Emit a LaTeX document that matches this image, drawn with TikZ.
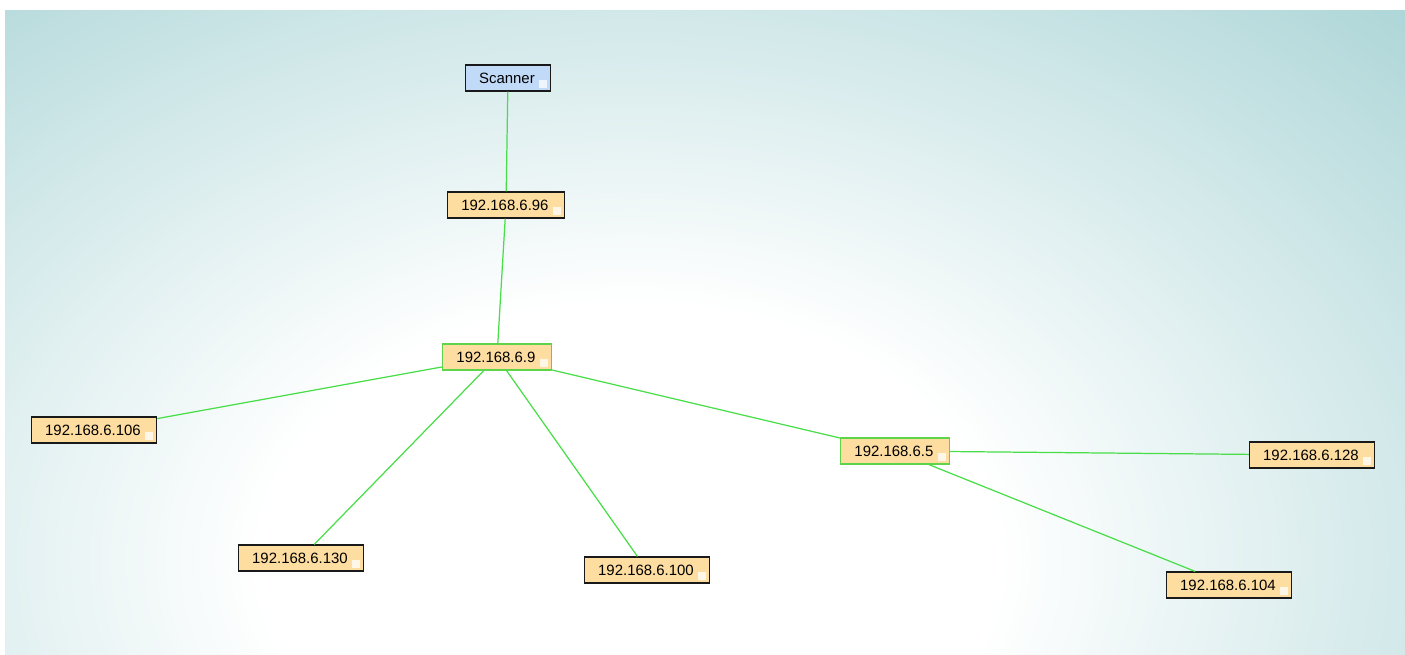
\documentclass[tikz,border=0pt]{standalone}
\usepackage{fontspec}
\setmainfont{Liberation Sans}
\usetikzlibrary{positioning}
\definecolor{bgteal}{RGB}{160,207,209}
\definecolor{hostfill}{RGB}{253,221,160}
\definecolor{scanfill}{RGB}{192,218,248}
\definecolor{linkgreen}{RGB}{72,222,72}
\definecolor{hubgreen}{RGB}{96,212,72}
\pgfdeclareradialshading{glow}{\pgfpoint{0bp}{0bp}}{color(0bp)=(white); color(8bp)=(white); color(27bp)=(bgteal); color(50bp)=(bgteal)}
\tikzset{
  host/.style={draw=black!90, line width=0.75pt, fill=hostfill,
    minimum height=14.7pt, inner xsep=7.8pt, inner ysep=0pt,
    font=\fontsize{8.5}{10}\selectfont,
    execute at end node={\hspace{1.2pt}},
    path picture={\fill[white,opacity=0.75]
      ([xshift=-2pt,yshift=1.5pt]path picture bounding box.south east)
      rectangle ++(-4.5pt,4.5pt);}},
  hub/.style={host, draw=hubgreen},
  scanbox/.style={host, fill=scanfill},
  link/.style={draw=linkgreen, line width=0.7pt}
}

\begin{document}
\begin{tikzpicture}[on grid]
      % background
      \useasboundingbox (0,0) rectangle (28.1,-13.1);
      \begin{scope}
         \clip (0.1,-0.2) rectangle (28.1,-13.1);
         \fill[bgteal] (0.1,-0.2) rectangle (28.1,-13.1);
         \shade[shading=glow] (12.6,-11.2) ellipse (23cm and 16cm);
      \end{scope}

      \node[scanbox] (scanner) at (10.16,-1.56) {Scanner};
      \node[host, below left=2.54cm and 0.04cm of scanner] (ip96) {192.168.6.96};
      \node[hub, below left=3.04cm and 0.18cm of ip96] (ip9) {192.168.6.9};

      \node[host, below left =1.46cm and 8.06cm of ip9] (ip106) {192.168.6.106};
      \node[host, below left =4.02cm and 3.92cm of ip9] (ip130) {192.168.6.130};
      \node[host, below right=4.26cm and 3.00cm of ip9] (ip100) {192.168.6.100};
      \node[hub,  below right=1.88cm and 7.96cm of ip9] (ip5) {192.168.6.5};

      \node[host, below right=0.08cm and 8.34cm of ip5] (ip128) {192.168.6.128};
      \node[host, below right=2.68cm and 6.68cm of ip5] (ip104) {192.168.6.104};

      \draw[link] (scanner) -- (ip96) -- (ip9) -- (ip5) -- (ip128)
                  (ip9) -- (ip106)
                  (ip9) -- (ip130)
                  (ip9) -- (ip100)
                  (ip5) -- (ip104);
   \end{tikzpicture}
\end{document}
